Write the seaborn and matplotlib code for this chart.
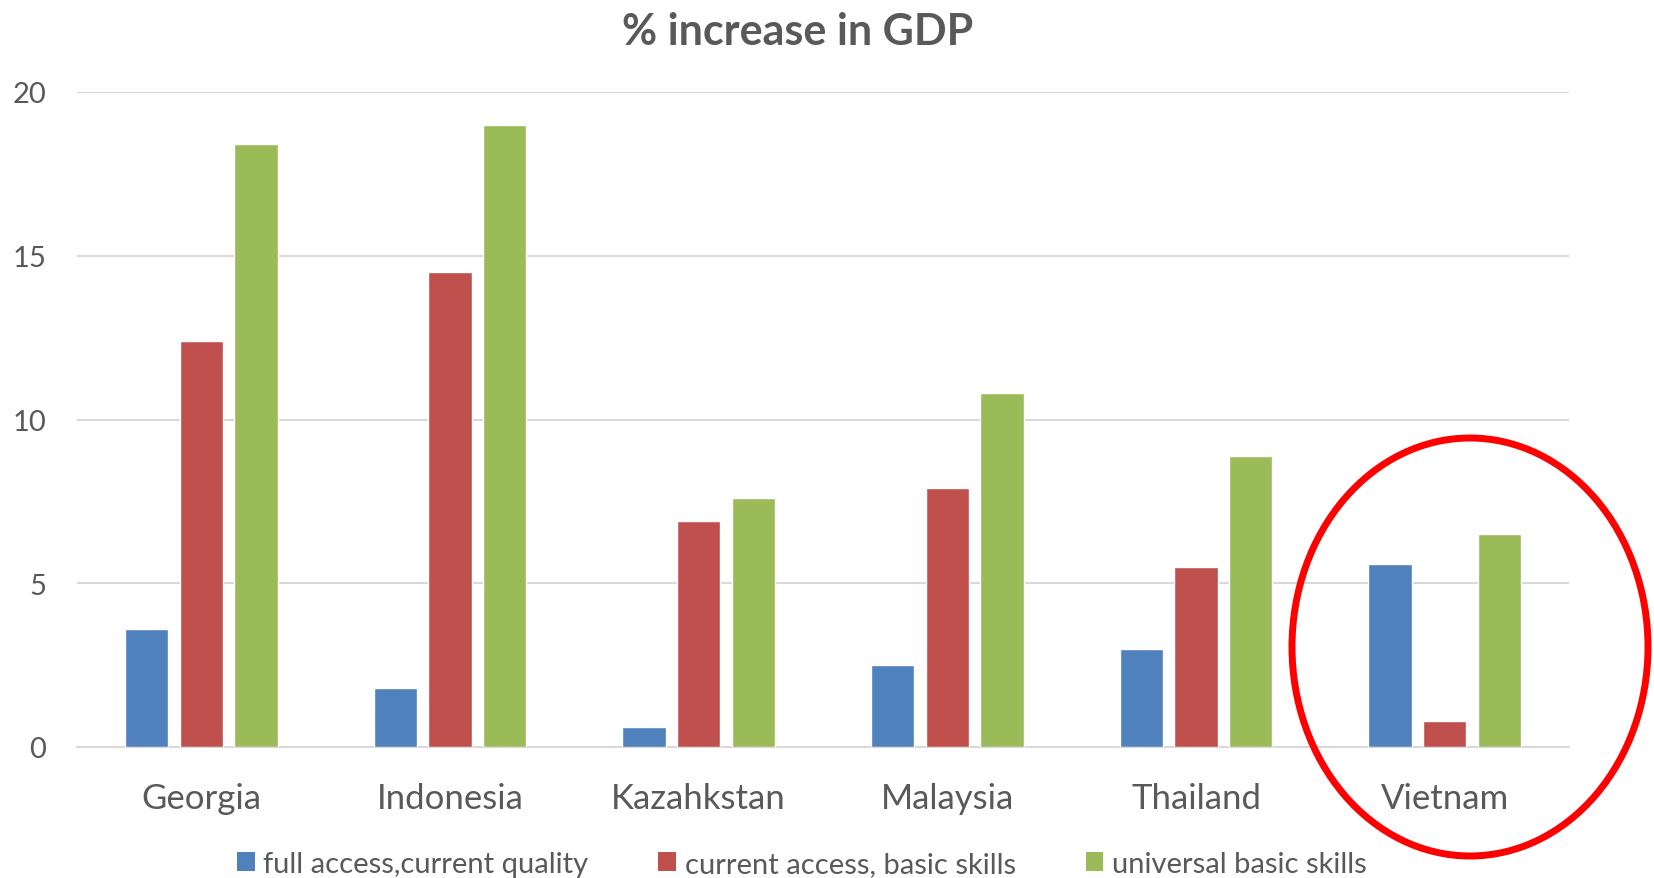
import matplotlib
matplotlib.use("Agg")
import matplotlib.pyplot as plt
from matplotlib.patches import Ellipse, Patch
import seaborn as sns
import pandas as pd

countries = ["Georgia", "Indonesia", "Kazahkstan", "Malaysia", "Thailand", "Vietnam"]
series_names = ["full access,current quality", "current access, basic skills", "universal basic skills"]
full_access = [3.6, 1.8, 0.6, 2.5, 3.0, 5.6]
current_access = [12.4, 14.5, 6.9, 7.9, 5.5, 0.8]
universal = [18.4, 19.0, 7.6, 10.8, 8.9, 6.5]
yticks = [0, 5, 10, 15, 20]
colors = ["#4F81BD", "#C0504D", "#9BBB59"]

rows = []
for name, vals in zip(series_names, [full_access, current_access, universal]):
    for c, v in zip(countries, vals):
        rows.append({"country": c, "series": name, "value": v})
df = pd.DataFrame(rows)

sns.set_theme(style="white")
plt.rcParams["font.family"] = ["Lato", "DejaVu Sans"]
TXT = "#595959"

fig = plt.figure(figsize=(16.54, 8.79), dpi=100)
ax = fig.add_axes([77/1654, 1-748/879, (1569-77)/1654, (748-93)/879])

sns.barplot(data=df, x="country", y="value", hue="series", order=countries,
            hue_order=series_names, palette=colors, width=0.66, gap=0.21,
            saturation=1, ax=ax, legend=False, zorder=3)

ax.set_ylim(0, 20)
ax.set_xlim(-0.5, 5.5)
ax.set_yticks(yticks)
ax.yaxis.grid(True, color="#D9D9D9", linewidth=1.5, zorder=0)
ax.set_axisbelow(True)
for s in ["top", "right", "left"]:
    ax.spines[s].set_visible(False)
ax.spines["bottom"].set_color("#D9D9D9")
ax.spines["bottom"].set_linewidth(1.5)
ax.tick_params(axis="y", length=0, pad=22, labelsize=21, labelcolor=TXT)
ax.tick_params(axis="x", length=0, pad=25, labelsize=25, labelcolor=TXT)
ax.set_xlabel("")
ax.set_ylabel("")

fig.text(798/1654, 1-32/879, "% increase in GDP", ha="center", va="center",
         fontsize=31, fontweight="bold", color=TXT)

handles = [Patch(facecolor=c, edgecolor="none") for c in colors]
fig.legend(handles, series_names, loc="center", bbox_to_anchor=(802/1654, 1-865/879),
           ncol=3, frameon=False, fontsize=21, labelcolor=TXT, handlelength=0.6,
           handleheight=0.6, handletextpad=0.3, columnspacing=2.4)

ell = Ellipse((1470/1654, 1-648/879), 356/1654, 418/879, transform=fig.transFigure,
              fill=False, edgecolor="#FF0000", linewidth=5)
fig.patches.append(ell)

fig.savefig("out.png", dpi=100, facecolor="white")
